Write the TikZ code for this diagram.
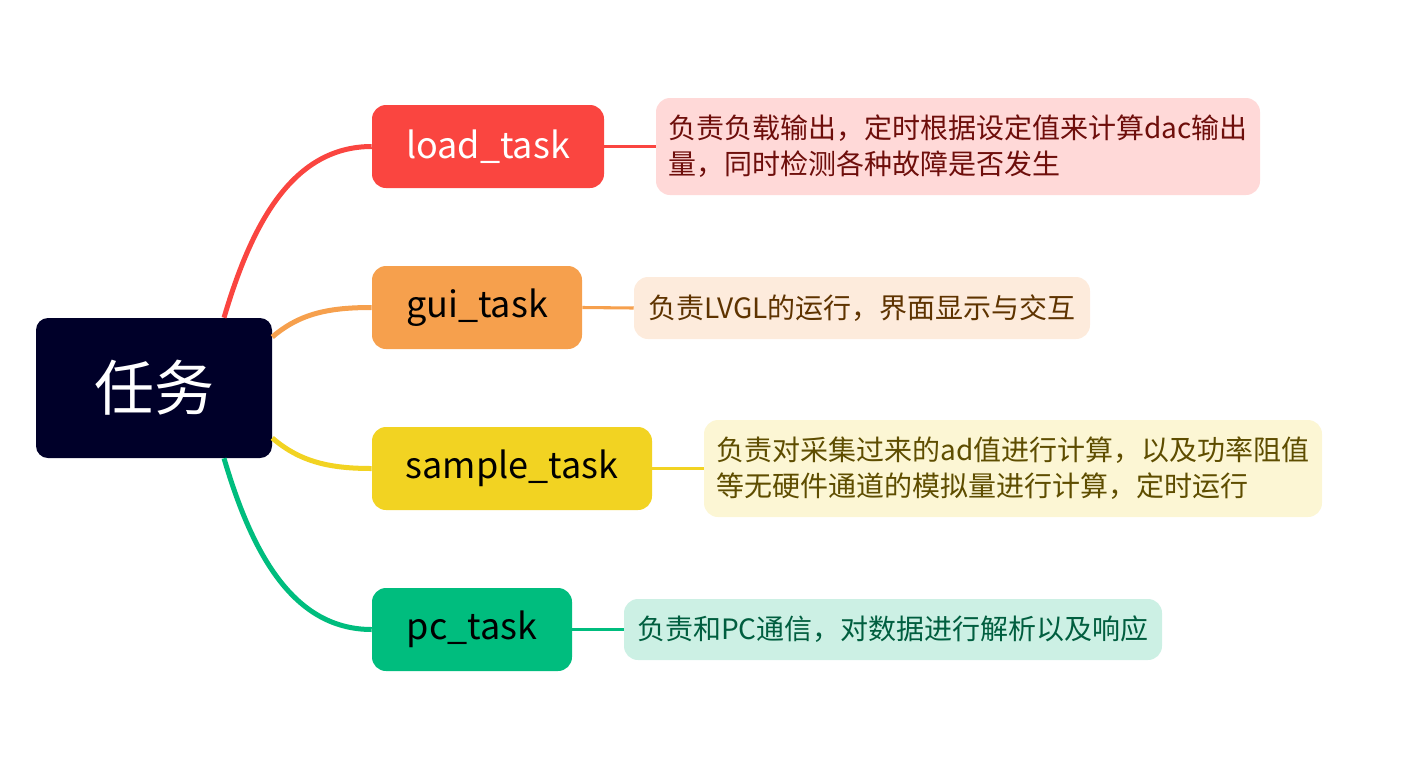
\documentclass[tikz,border=0pt]{standalone}
\usepackage{fontspec}
\setmainfont{Noto Sans CJK SC}
\usetikzlibrary{calc}
\definecolor{cRoot}{HTML}{000029}
\definecolor{cRed}{HTML}{FA4540}
\definecolor{cOrange}{HTML}{F6A04D}
\definecolor{cYellow}{HTML}{F2D322}
\definecolor{cGreen}{HTML}{00BD7E}
\definecolor{fRed}{HTML}{FFD9D8}
\definecolor{fOrange}{HTML}{FDEBDC}
\definecolor{fYellow}{HTML}{FCF6D4}
\definecolor{fGreen}{HTML}{CCF0E4}
\definecolor{tRed}{HTML}{6E0E0B}
\definecolor{tOrange}{HTML}{5E3300}
\definecolor{tYellow}{HTML}{5E4D00}
\definecolor{tGreen}{HTML}{005E3F}
\begin{document}
\begin{tikzpicture}[x=0.75pt,y=-0.75pt,
  taskbox/.style={rounded corners=10.5pt, inner sep=0pt, minimum height=83*0.75pt,
    font=\fontsize{27pt}{32pt}\selectfont},
  descbox/.style={rounded corners=10.5pt, inner xsep=9pt, inner ysep=0pt, align=left,
    font=\fontsize{21pt}{27pt}\selectfont},
  branch/.style={line width=3.75pt},
  link/.style={line width=2.3pt}]
\useasboundingbox (0,0) rectangle (1421,765);
% nodes
\node[fill=cRoot, text=white, rounded corners=9pt, minimum width=236*0.75pt, minimum height=140*0.75pt,
  inner sep=0pt, font=\fontsize{45pt}{50pt}\selectfont] (root) at (154,388) {任务};
\node[taskbox, fill=cRed, text=white, minimum width=232*0.75pt] (load) at (488,146.5) {load\_task};
\node[taskbox, fill=cOrange, text=black, minimum width=210*0.75pt] (gui) at (477,307.5) {gui\_task};
\node[taskbox, fill=cYellow, text=black, minimum width=280*0.75pt] (sample) at (512,468.5) {sample\_task};
\node[taskbox, fill=cGreen, text=black, minimum width=200*0.75pt] (pc) at (472,629.5) {pc\_task};
\node[descbox, fill=fRed, text=tRed, minimum width=604*0.75pt, minimum height=97*0.75pt] (loadd) at (958,146.5)
  {负责负载输出，定时根据设定值来计算dac输出\\量，同时检测各种故障是否发生};
\node[descbox, fill=fOrange, text=tOrange, minimum width=456*0.75pt, minimum height=62*0.75pt] (guid) at (862,308)
  {负责LVGL的运行，界面显示与交互};
\node[descbox, fill=fYellow, text=tYellow, minimum width=618*0.75pt, minimum height=97*0.75pt] (sampled) at (1013,468.5)
  {负责对采集过来的ad值进行计算，以及功率阻值\\等无硬件通道的模拟量进行计算，定时运行};
\node[descbox, fill=fGreen, text=tGreen, minimum width=538*0.75pt, minimum height=61*0.75pt] (pcd) at (893,629.5)
  {负责和PC通信，对数据进行解析以及响应};
% connector start points on the root's border
\coordinate (sRed) at ($(root.north)+(70,0)$);
\coordinate (sOrange) at ($(root.east)+(0,-51)$);
\coordinate (sYellow) at ($(root.east)+(0,50)$);
\coordinate (sGreen) at ($(root.south)+(70,0)$);
\draw[branch, cRed] (sRed) .. controls ++(26,-88) and ++(-82,0) .. (load.west);
\draw[branch, cOrange] (sOrange) .. controls ++(28,-24) and ++(-42,0) .. (gui.west);
\draw[branch, cYellow] (sYellow) .. controls ++(28,24) and ++(-42,0) .. (sample.west);
\draw[branch, cGreen] (sGreen) .. controls ++(26,88) and ++(-82,0) .. (pc.west);
\draw[link, cRed] (load.east) -- (loadd.west);
\draw[link, cOrange] (gui.east) -- (guid.west);
\draw[link, cYellow] (sample.east) -- (sampled.west);
\draw[link, cGreen] (pc.east) -- (pcd.west);
\end{tikzpicture}
\end{document}
